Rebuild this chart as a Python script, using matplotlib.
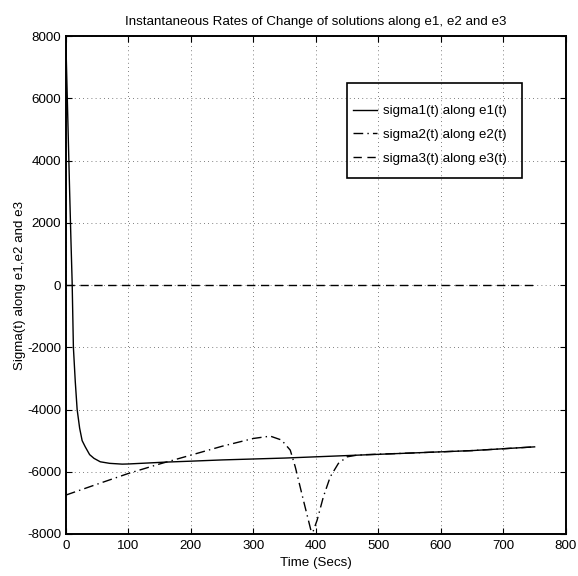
import numpy as np
import matplotlib
matplotlib.use("Agg")
import matplotlib.pyplot as plt
from matplotlib.patches import Rectangle

plt.rcParams['font.family'] = ['Liberation Sans', 'DejaVu Sans']

# sigma1(t) along e1(t) - fast drop, then slow rise
t1 = [0, 2, 4, 6, 8, 10, 12, 15, 18, 22, 26, 31, 38, 45, 55, 70, 90, 100,
      130, 160, 200, 250, 300, 350, 400, 450, 500, 550, 600, 650, 700, 750]
sigma1 = [7800, 6200, 4600, 3000, 1500, 100, -2000, -3100, -4000, -4600, -5000,
          -5200, -5450, -5570, -5680, -5730, -5755, -5750, -5720, -5690, -5660,
          -5620, -5590, -5560, -5520, -5480, -5440, -5400, -5360, -5320, -5260, -5200]

# sigma2(t) along e2(t) - slow rise, sharp dip near 395 s
t2 = [0, 50, 100, 150, 200, 250, 300, 327, 345, 359, 367, 380, 392, 395,
      402, 412, 423, 436, 450, 466, 480, 550, 650, 750]
sigma2 = [-6750, -6400, -6055, -5750, -5466, -5180, -4930, -4855, -4980, -5305,
          -5842, -6913, -7878, -7950, -7556, -6806, -6163, -5733, -5520, -5466,
          -5450, -5400, -5320, -5200]

# sigma3(t) along e3(t) - stays at zero
t3 = [0, 750]
sigma3 = [0, 0]

xticks = [0, 100, 200, 300, 400, 500, 600, 700, 800]
yticks = [8000, 6000, 4000, 2000, 0, -2000, -4000, -6000, -8000]

fs = 9.6

fig = plt.figure(figsize=(5.78, 5.76), dpi=100)
ax = fig.add_axes([0.114, 0.073, 0.865, 0.864])

ax.plot(t1, sigma1, color='black', linewidth=1.0, linestyle='-', label='sigma1(t) along e1(t)')
ax.plot(t2, sigma2, color='black', linewidth=1.0, linestyle=(0, (7, 3, 1, 3)), label='sigma2(t) along e2(t)')
ax.plot(t3, sigma3, color='black', linewidth=1.0, linestyle=(0, (6, 4)), label='sigma3(t) along e3(t)')

ax.set_xlim(0, 800)
ax.set_ylim(-8000, 8000)
ax.set_xticks(xticks)
ax.set_yticks(yticks)
ax.set_yticklabels([str(v) for v in yticks])
ax.tick_params(direction='in', top=True, right=True, labelsize=fs, length=4, width=0.8)
ax.tick_params(axis='x', pad=4)
ax.grid(True, linestyle=(0, (1, 4)), color='#555555', linewidth=0.6)
for s in ax.spines.values():
    s.set_linewidth(1.4)

ax.set_title('Instantaneous Rates of Change of solutions along e1, e2 and e3', fontsize=fs, pad=8)
ax.set_xlabel('Time (Secs)', fontsize=fs, labelpad=4)
ax.set_ylabel('Sigma(t) along e1,e2 and e3', fontsize=fs, labelpad=1)

# legend entries without frame, box drawn separately (MATLAB style)
leg = ax.legend(loc='upper left', bbox_to_anchor=(0.5746, 0.862), fontsize=fs,
                frameon=False, borderpad=0, borderaxespad=0, handlelength=1.8,
                handletextpad=0.45, labelspacing=0.85)
ax.add_patch(Rectangle((0.563, 0.7156), 0.35, 0.191, transform=ax.transAxes,
                       fill=False, edgecolor='black', linewidth=1.2, zorder=5))

fig.savefig('out.png', dpi=100)
